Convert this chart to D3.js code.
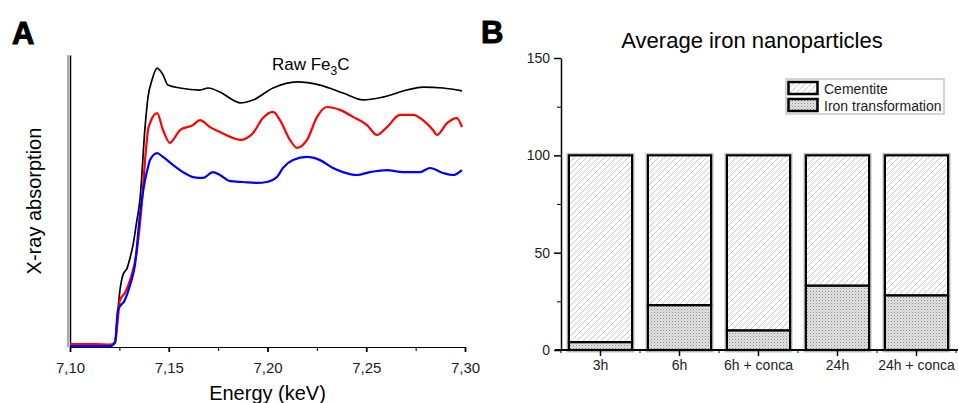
<!DOCTYPE html>
<html>
<head>
<meta charset="utf-8">
<script src="https://cdn.jsdelivr.net/npm/d3@7"></script>
<style>
  body { margin: 0; background: #fff; }
  svg { display: block; font-family: "Liberation Sans", Arial, sans-serif; }
  .axis path, .axis line { stroke: #000; }
  .axis text { fill: #222; font-family: "Liberation Sans", Arial, sans-serif; }
</style>
</head>
<body>
<div id="graphs"></div>
<script>
// ---- panel A: XANES spectra (energy in keV, normalised absorption) ----
var blackE = [7.100, 7.1127, 7.1203, 7.1228, 7.1238, 7.1253, 7.1268, 7.1289, 7.1304, 7.1319, 7.1339, 7.1354, 7.1380, 7.1395, 7.1415, 7.1441, 7.1471, 7.1496, 7.1557, 7.1658, 7.1699, 7.1759, 7.1825, 7.1861, 7.1927, 7.2028, 7.2149, 7.2266, 7.2382, 7.2484, 7.2585, 7.2706, 7.2787, 7.2889, 7.2985];
var blackV = [0.003, 0.003, 0.005, 0.017, 0.09, 0.195, 0.247, 0.270, 0.305, 0.349, 0.435, 0.503, 0.753, 0.856, 0.914, 0.955, 0.932, 0.897, 0.887, 0.880, 0.887, 0.873, 0.846, 0.836, 0.846, 0.887, 0.908, 0.897, 0.870, 0.846, 0.856, 0.880, 0.890, 0.887, 0.877];

var redE = [7.100, 7.1127, 7.1203, 7.1228, 7.1243, 7.1253, 7.1278, 7.1304, 7.1339, 7.1365, 7.1380, 7.1395, 7.1405, 7.1441, 7.1471, 7.1506, 7.1532, 7.1557, 7.1623, 7.1658, 7.1709, 7.1759, 7.1825, 7.1861, 7.1927, 7.1977, 7.2028, 7.2063, 7.2114, 7.2149, 7.2200, 7.2251, 7.2301, 7.2367, 7.2433, 7.2504, 7.2554, 7.2605, 7.2671, 7.2737, 7.2787, 7.2838, 7.2858, 7.2909, 7.2959, 7.2985];
var redV = [0.010, 0.010, 0.008, 0.015, 0.10, 0.161, 0.185, 0.229, 0.332, 0.503, 0.640, 0.743, 0.767, 0.801, 0.743, 0.699, 0.719, 0.743, 0.760, 0.777, 0.753, 0.736, 0.716, 0.709, 0.733, 0.784, 0.805, 0.777, 0.709, 0.682, 0.709, 0.788, 0.822, 0.812, 0.788, 0.760, 0.726, 0.753, 0.795, 0.795, 0.777, 0.743, 0.726, 0.767, 0.784, 0.753];

var blueE = [7.100, 7.1203, 7.1228, 7.1243, 7.1278, 7.1304, 7.1329, 7.1354, 7.1380, 7.1395, 7.1405, 7.1441, 7.1471, 7.1522, 7.1572, 7.1623, 7.1673, 7.1724, 7.1759, 7.1810, 7.1876, 7.1947, 7.1997, 7.2048, 7.2078, 7.2129, 7.2200, 7.2266, 7.2332, 7.2382, 7.2453, 7.2519, 7.2605, 7.2686, 7.2772, 7.2823, 7.2889, 7.2939, 7.2985];
var blueV = [0.003, 0.003, 0.015, 0.127, 0.161, 0.212, 0.281, 0.452, 0.572, 0.616, 0.640, 0.664, 0.651, 0.623, 0.599, 0.582, 0.579, 0.599, 0.589, 0.568, 0.565, 0.562, 0.565, 0.582, 0.613, 0.640, 0.651, 0.640, 0.613, 0.599, 0.589, 0.599, 0.606, 0.599, 0.599, 0.613, 0.596, 0.589, 0.606];

var energyTicks = [7.10, 7.15, 7.20, 7.25, 7.30];
var energyMinor = [7.125, 7.175, 7.225, 7.275];

// ---- panel B: stacked bars (%) ----
var categories = ["3h", "6h", "6h + conca", "24h", "24h + conca"];
var ironTransformation = [4, 23, 10, 33, 28];
var cementite = [96, 77, 90, 67, 72];
var percentTicks = [0, 50, 100, 150];
var percentMinor = [25, 75, 125];

var svg = d3.select("#graphs").append("svg")
    .attr("width", 959)
    .attr("height", 403);

// patterns
var defs = svg.append("defs");
var hatch = defs.append("pattern")
    .attr("id", "hatch")
    .attr("patternUnits", "userSpaceOnUse")
    .attr("width", 6).attr("height", 6);
hatch.append("rect").attr("width", 6).attr("height", 6).attr("fill", "#fff");
hatch.append("path")
    .attr("d", "M0,6 L6,0 M-1.5,1.5 L1.5,-1.5 M4.5,7.5 L7.5,4.5")
    .attr("stroke", "#c4c4c4").attr("stroke-width", 0.9);

var dots = defs.append("pattern")
    .attr("id", "dots")
    .attr("patternUnits", "userSpaceOnUse")
    .attr("width", 3).attr("height", 3);
dots.append("rect").attr("width", 3).attr("height", 3).attr("fill", "#e2e2e2");
dots.append("rect").attr("width", 1).attr("height", 1).attr("fill", "#8c8c8c");
dots.append("rect").attr("x", 1.5).attr("y", 1.5).attr("width", 1).attr("height", 1).attr("fill", "#b0b0b0");

function drawSpectra() {
	var x = d3.scaleLinear().domain([7.10, 7.30]).range([70, 465]);
	var y = d3.scaleLinear().domain([0, 1]).range([347, 55]);

	var g = svg.append("g");

	g.append("text")
	    .attr("x", 12).attr("y", 44)
	    .attr("font-size", 31).attr("font-weight", "bold")
	    .attr("stroke", "#000").attr("stroke-width", 1)
	    .text("A");

	// y axis (no ticks) with a grey shadow on its left
	g.append("line")
	    .attr("x1", x.range()[0] - 2).attr("x2", x.range()[0] - 2)
	    .attr("y1", y.range()[1]).attr("y2", y.range()[0])
	    .attr("stroke", "#aaa").attr("stroke-width", 2);
	g.append("g")
	    .attr("class", "axis")
	    .attr("transform", "translate(" + x.range()[0] + ",0)")
	    .call(d3.axisLeft(y).tickValues([]).tickSizeOuter(0))
	    .select(".domain").attr("stroke-width", 1.5);

	var fmt = function(d) { return d3.format(".2f")(d).replace(".", ","); };

	g.append("g")
	    .attr("class", "axis")
	    .attr("transform", "translate(0," + y.range()[0] + ")")
	    .call(d3.axisBottom(x).tickValues(energyMinor).tickSize(4).tickFormat(""))
	    .select(".domain").remove();
	var xa = g.append("g")
	    .attr("class", "axis")
	    .attr("transform", "translate(0," + y.range()[0] + ")")
	    .call(d3.axisBottom(x).tickValues(energyTicks).tickSize(5).tickPadding(10).tickSizeOuter(0).tickFormat(fmt));
	xa.selectAll("text").attr("font-size", 15);
	xa.selectAll(".tick line").attr("stroke-width", 1.8);
	xa.select(".domain").attr("stroke-width", 1.2);

	g.append("text")
	    .attr("x", (x.range()[0] + x.range()[1]) / 2)
	    .attr("y", 400)
	    .attr("text-anchor", "middle")
	    .attr("font-size", 20)
	    .text("Energy (keV)");

	g.append("text")
	    .attr("transform", "translate(41," + (y.range()[0] + y.range()[1]) / 2 + ") rotate(-90)")
	    .attr("text-anchor", "middle")
	    .attr("font-size", 20)
	    .text("X-ray absorption");

	var series = [
		{e: blackE, v: blackV, color: "#000", w: 1.7},
		{e: redE, v: redV, color: "#ff0000", w: 2.2},
		{e: blueE, v: blueV, color: "#0000ff", w: 2.2}
	];

	var line = d3.line()
	    .x(function(d) { return x(d[0]); })
	    .y(function(d) { return y(d[1]); })
	    .curve(d3.curveMonotoneX);

	series.forEach(function(s) {
		g.append("path")
		    .datum(d3.zip(s.e, s.v))
		    .attr("fill", "none")
		    .attr("stroke", s.color)
		    .attr("stroke-width", s.w)
		    .attr("stroke-linejoin", "round")
		    .attr("d", line);
	});

	var lab = g.append("text")
	    .attr("x", 272).attr("y", 70)
	    .attr("font-size", 17);
	lab.append("tspan").text("Raw Fe");
	lab.append("tspan").attr("font-size", 12).attr("dy", 5).text("3");
	lab.append("tspan").attr("dy", -5).text("C");
}

function drawBars() {
	var x = d3.scaleBand().domain(categories).range([561, 956])
	    .paddingInner(0.2).paddingOuter(0.1);
	var y = d3.scaleLinear().domain([0, 150]).range([350, 58]);

	var g = svg.append("g");

	g.append("text")
	    .attr("x", 481).attr("y", 43)
	    .attr("font-size", 31).attr("font-weight", "bold")
	    .attr("stroke", "#000").attr("stroke-width", 1)
	    .text("B");

	g.append("text")
	    .attr("x", 752).attr("y", 48)
	    .attr("text-anchor", "middle")
	    .attr("font-size", 22)
	    .text("Average iron nanoparticles");

	// y axis
	g.append("g")
	    .attr("class", "axis")
	    .attr("transform", "translate(" + x.range()[0] + ",0)")
	    .call(d3.axisLeft(y).tickValues(percentMinor).tickSize(4).tickFormat(""))
	    .select(".domain").remove();
	var ya = g.append("g")
	    .attr("class", "axis")
	    .attr("transform", "translate(" + x.range()[0] + ",0)")
	    .call(d3.axisLeft(y).tickValues(percentTicks).tickSize(7).tickPadding(4).tickSizeOuter(0));
	ya.selectAll("text").attr("font-size", 14);
	ya.select(".domain").attr("stroke-width", 1.5);
	ya.selectAll(".tick line").attr("stroke-width", 1.5);

	// bars: grey halo, then fills with black outlines
	var bw = x.bandwidth();
	var bars = g.selectAll(".bar").data(categories).enter().append("g").attr("class", "bar");
	bars.append("rect")
	    .attr("x", function(d) { return x(d); })
	    .attr("y", function(d, i) { return y(ironTransformation[i] + cementite[i]); })
	    .attr("width", bw)
	    .attr("height", function(d, i) { return y(0) - y(ironTransformation[i] + cementite[i]); })
	    .attr("fill", "none")
	    .attr("stroke", "#c8c8c8").attr("stroke-width", 5);
	bars.append("rect")
	    .attr("x", function(d) { return x(d); })
	    .attr("y", function(d, i) { return y(ironTransformation[i] + cementite[i]); })
	    .attr("width", bw)
	    .attr("height", function(d, i) { return y(ironTransformation[i]) - y(ironTransformation[i] + cementite[i]); })
	    .attr("fill", "url(#hatch)")
	    .attr("stroke", "#000").attr("stroke-width", 2.2);
	bars.append("rect")
	    .attr("x", function(d) { return x(d); })
	    .attr("y", function(d, i) { return y(ironTransformation[i]); })
	    .attr("width", bw)
	    .attr("height", function(d, i) { return y(0) - y(ironTransformation[i]); })
	    .attr("fill", "url(#dots)")
	    .attr("stroke", "#000").attr("stroke-width", 2.2);

	// x axis
	var step = x.step();
	var bounds = [x(categories[0]) - (step - bw) / 2];
	categories.forEach(function(c) { bounds.push(x(c) + bw + (step - bw) / 2); });
	g.append("g")
	    .attr("class", "axis")
	    .attr("transform", "translate(0," + y(0) + ")")
	    .selectAll("line").data(bounds).enter().append("line")
	    .attr("x1", function(d) { return d; }).attr("x2", function(d) { return d; })
	    .attr("y1", 0).attr("y2", 3)
	    .attr("stroke", "#000");
	var xa = g.append("g")
	    .attr("class", "axis")
	    .attr("transform", "translate(0," + y(0) + ")")
	    .call(d3.axisBottom(x).tickSize(6).tickPadding(4).tickSizeOuter(0));
	xa.selectAll("text").attr("font-size", 14);
	xa.select(".domain").attr("stroke-width", 2).attr("d", "M" + (x.range()[0] - 6) + ",0H" + (x.range()[1] + 2));
	xa.selectAll(".tick line").attr("stroke-width", 1.5);

	// legend
	var lg = g.append("g").attr("transform", "translate(786,79)");
	lg.append("rect")
	    .attr("width", 158).attr("height", 35)
	    .attr("fill", "#fff").attr("stroke", "#aaa").attr("stroke-width", 1);
	var items = [
		{label: "Cementite", fill: "url(#hatch)"},
		{label: "Iron transformation", fill: "url(#dots)"}
	];
	items.forEach(function(it, i) {
		lg.append("rect")
		    .attr("x", 2.5).attr("y", 3 + i * 17)
		    .attr("width", 29).attr("height", 12)
		    .attr("fill", it.fill)
		    .attr("stroke", "#000").attr("stroke-width", 2.5);
		lg.append("text")
		    .attr("x", 38).attr("y", 10 + i * 17)
		    .attr("dy", "0.35em")
		    .attr("font-size", 14)
		    .attr("fill", "#222")
		    .text(it.label);
	});
}

drawSpectra();
drawBars();
</script>
</body>
</html>
